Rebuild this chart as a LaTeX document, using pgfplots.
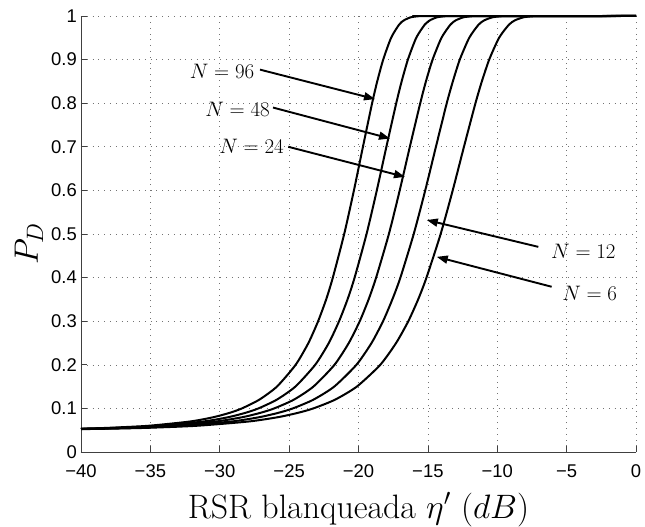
\RequirePackage{fix-cm}
\documentclass[border=0pt]{standalone}
\usepackage{fontspec}
\newfontfamily\arial{Liberation Sans}
\usepackage{pgfplots}
\pgfplotsset{compat=1.18}
\usetikzlibrary{arrows.meta}
\begin{document}
\begin{tikzpicture}
\useasboundingbox (-81bp,-75bp) rectangle (564bp,452bp);
\begin{axis}[
  at={(0,0)}, anchor=south west,
  scale only axis, width=555bp, height=436bp,
  xmin=-40, xmax=0, ymin=0, ymax=1,
  axis lines*=left,
  axis line style={-, draw=black!75, line width=0.8bp},
  tick align=inside,
  major tick length=6bp,
  tick style={black!75, line width=0.7bp},
  xtick={-40,-35,-30,-25,-20,-15,-10,-5,0},
  xticklabels={−40,−35,−30,−25,−20,−15,−10,−5,0},
  ytick={0,0.1,0.2,0.3,0.4,0.5,0.6,0.7,0.8,0.9,1},
  yticklabels={0,0.1,0.2,0.3,0.4,0.5,0.6,0.7,0.8,0.9,1},
  xticklabel style={font=\arial\fontsize{18.5}{21}\selectfont, anchor=base, inner sep=0pt, yshift=-25bp},
  yticklabel style={font=\arial\fontsize{18.5}{21}\selectfont, anchor=east, inner sep=0pt, xshift=-4bp},
  grid=major,
  major grid style={black!55, line width=0.6bp, dash pattern=on 0.8bp off 5bp},
  xlabel={RSR blanqueada $\eta'\ (dB)$},
  ylabel={$P_D$},
  xlabel style={font=\fontsize{34}{40}\selectfont, at={(axis description cs:0.5,0)}, anchor=base, yshift=-66bp},
  ylabel style={font=\fontsize{34}{40}\selectfont, at={(axis description cs:0,0.5)}, anchor=base, xshift=-10bp, yshift=43bp},
  clip=false,
  curve/.style={black, line width=2bp, smooth, tension=0.4, mark=none},
]
% N = 96
\addplot[curve] coordinates {(-40,0.0536) (-38.38,0.055) (-35.21,0.06) (-32.13,0.07) (-30.43,0.08) (-29.27,0.09) (-28.40,0.10) (-27.15,0.12) (-25.88,0.15) (-24.53,0.20) (-23.61,0.25) (-22.91,0.30) (-22.33,0.35) (-21.85,0.40) (-21.03,0.50) (-20.33,0.60) (-19.68,0.70) (-19.02,0.80) (-18.65,0.85) (-18.22,0.90) (-17.65,0.95) (-17.08,0.98) (-16.73,0.99) (-16.24,0.997) (-15.67,0.9995) (-15.26,0.9999) (0,1)};
% N = 48
\addplot[curve] coordinates {(-40,0.0532) (-37.78,0.055) (-34.42,0.06) (-31.17,0.07) (-29.36,0.08) (-28.13,0.09) (-27.21,0.10) (-25.89,0.12) (-24.55,0.15) (-23.12,0.20) (-22.14,0.25) (-21.40,0.30) (-20.79,0.35) (-20.28,0.40) (-19.42,0.50) (-18.68,0.60) (-17.99,0.70) (-17.28,0.80) (-16.89,0.85) (-16.44,0.90) (-15.84,0.95) (-15.23,0.98) (-14.86,0.99) (-14.34,0.997) (-13.74,0.9995) (-13.31,0.9999) (0,1)};
% N = 24
\addplot[curve] coordinates {(-40,0.0530) (-37.26,0.055) (-33.71,0.06) (-30.26,0.07) (-28.34,0.08) (-27.05,0.09) (-26.07,0.10) (-24.66,0.12) (-23.25,0.15) (-21.73,0.20) (-20.70,0.25) (-19.91,0.30) (-19.27,0.35) (-18.73,0.40) (-17.81,0.50) (-17.03,0.60) (-16.30,0.70) (-15.55,0.80) (-15.14,0.85) (-14.66,0.90) (-14.02,0.95) (-13.38,0.98) (-12.99,0.99) (-12.44,0.997) (-11.80,0.9995) (-11.35,0.9999) (0,1)};
% N = 12
\addplot[curve] coordinates {(-40,0.0527) (-36.53,0.055) (-32.78,0.06) (-29.14,0.07) (-27.12,0.08) (-25.76,0.09) (-24.73,0.10) (-23.25,0.12) (-21.75,0.15) (-20.15,0.20) (-19.06,0.25) (-18.23,0.30) (-17.56,0.35) (-16.98,0.40) (-16.02,0.50) (-15.19,0.60) (-14.42,0.70) (-13.64,0.80) (-13.20,0.85) (-12.70,0.90) (-12.02,0.95) (-11.35,0.98) (-10.94,0.99) (-10.35,0.997) (-9.68,0.9995) (-9.20,0.9999) (0,1)};
% N = 6
\addplot[curve] coordinates {(-40,0.0524) (-35.68,0.055) (-31.73,0.06) (-27.90,0.07) (-25.78,0.08) (-24.34,0.09) (-23.25,0.10) (-21.69,0.12) (-20.12,0.15) (-18.43,0.20) (-17.29,0.25) (-16.41,0.30) (-15.70,0.35) (-15.10,0.40) (-14.08,0.50) (-13.21,0.60) (-12.40,0.70) (-11.57,0.80) (-11.11,0.85) (-10.58,0.90) (-9.87,0.95) (-9.16,0.98) (-8.73,0.99) (-8.11,0.997) (-7.41,0.9995) (-6.90,0.9999) (0,1)};
% annotations
\begin{scope}[every node/.style={font=\fontsize{21}{25}\selectfont, inner sep=0pt},
              arr/.style={-{Triangle[length=11bp,width=8bp]}, line width=1.9bp, black}]
\node[anchor=east] at (axis cs:-27.5,0.874) {$N = 96$};
\draw[arr] (axis cs:-27.10,0.877) -- (axis cs:-18.81,0.8095);
\node[anchor=east] at (axis cs:-26.38,0.785) {$N = 48$};
\draw[arr] (axis cs:-26.16,0.790) -- (axis cs:-17.73,0.719);
\node[anchor=east] at (axis cs:-25.37,0.700) {$N = 24$};
\draw[arr] (axis cs:-25.06,0.700) -- (axis cs:-16.65,0.631);
\node[anchor=west] at (axis cs:-6.13,0.461) {$N = 12$};
\draw[arr] (axis cs:-7.04,0.4705) -- (axis cs:-15.08,0.532);
\node[anchor=west] at (axis cs:-5.33,0.3635) {$N = 6$};
\draw[arr] (axis cs:-6.08,0.379) -- (axis cs:-14.36,0.4476);
\end{scope}
\end{axis}
\end{tikzpicture}
\end{document}
